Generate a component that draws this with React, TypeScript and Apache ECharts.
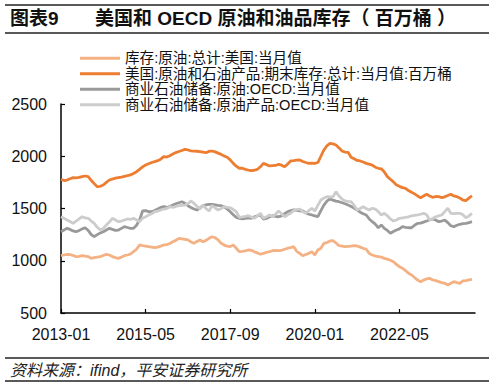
import React, { useEffect, useRef } from "react";
import * as echarts from "echarts";

const seriesNames = [
  "库存:原油:总计:美国:当月值",
  "美国:原油和石油产品:期末库存:总计:当月值:百万桶",
  "商业石油储备:原油:OECD:当月值",
  "商业石油储备:原油产品:OECD:当月值",
];

const startYear = 2013;
const monthCount = 138; // 2013-01 .. 2024-06
const categories: string[] = [];
for (let i = 0; i < monthCount; i++) {
  const y = startYear + Math.floor(i / 12);
  const m = (i % 12) + 1;
  categories.push(`${y}-${m < 10 ? "0" + m : m}`);
}

const usCrude = [
  1048, 1055, 1062, 1058, 1050, 1039, 1042, 1048, 1045, 1040, 1023, 1030,
  1035, 1039, 1050, 1062, 1055, 1040, 1030, 1023, 1035, 1048, 1055, 1065,
  1087, 1110, 1151, 1145, 1140, 1135, 1130, 1125, 1130, 1140, 1151, 1155,
  1165, 1182, 1195, 1215, 1210, 1205, 1199, 1180, 1167, 1185, 1199, 1182,
  1195, 1215, 1230, 1220, 1200, 1167, 1150, 1140, 1135, 1151, 1120, 1087,
  1090, 1095, 1103, 1100, 1085, 1075, 1062, 1071, 1080, 1087, 1096, 1100,
  1096, 1100, 1110, 1120, 1125, 1135, 1090, 1071, 1048, 1060, 1071, 1087,
  1055, 1103, 1119, 1167, 1174, 1189, 1193, 1170, 1144, 1140, 1135, 1138,
  1140, 1144, 1141, 1130, 1119, 1110, 1070, 1055, 1045, 1040, 1035, 1023,
  1015, 1005, 991, 965, 943, 928, 905, 880, 864, 840, 815, 800,
  815, 826, 832, 816, 810, 800, 790, 784, 768, 785, 800, 790,
  784, 807, 810, 816, 822,
];

const usTotal = [
  1779, 1768, 1772, 1785, 1795, 1793, 1797, 1805, 1811, 1805, 1770, 1738,
  1709, 1712, 1725, 1750, 1773, 1782, 1790, 1795, 1800, 1808, 1814, 1822,
  1835, 1852, 1875, 1898, 1916, 1928, 1940, 1948, 1958, 1972, 1996, 1992,
  2005, 2022, 2035, 2045, 2055, 2066, 2060, 2052, 2050, 2048, 2045, 2040,
  2034, 2048, 2050, 2042, 2030, 2018, 2002, 1990, 1965, 1932, 1905, 1885,
  1885, 1875, 1868, 1862, 1866, 1875, 1900, 1932, 1920, 1907, 1910, 1912,
  1923, 1915, 1900, 1925, 1955, 1958, 1962, 1964, 1950, 1940, 1932, 1935,
  1932, 1940, 2000, 2060, 2100, 2124, 2118, 2108, 2080, 2050, 2040, 2038,
  1990, 1975, 1960, 1955, 1945, 1932, 1925, 1915, 1895, 1885, 1880, 1850,
  1805, 1780, 1755, 1725, 1712, 1700, 1693, 1672, 1655, 1640, 1620, 1603,
  1620, 1636, 1620, 1607, 1615, 1613, 1605, 1612, 1625, 1636, 1620, 1613,
  1600, 1581, 1575, 1600, 1622,
];

const oecdCrude = [
  1278, 1295, 1310, 1300, 1285, 1278, 1290, 1305, 1316, 1290, 1250, 1230,
  1250, 1265, 1278, 1295, 1310, 1300, 1290, 1294, 1310, 1326, 1318, 1310,
  1310, 1340, 1390, 1476, 1480, 1470, 1469, 1480, 1495, 1510, 1517, 1510,
  1520, 1533, 1545, 1555, 1565, 1550, 1527, 1510, 1495, 1486, 1505, 1527,
  1535, 1540, 1540, 1535, 1530, 1527, 1515, 1495, 1469, 1440, 1415, 1406,
  1400, 1406, 1410, 1406, 1420, 1430, 1438, 1397, 1405, 1420, 1431, 1425,
  1421, 1430, 1450, 1469, 1480, 1486, 1482, 1478, 1476, 1460, 1445, 1438,
  1430, 1421, 1480, 1533, 1570, 1591, 1580, 1570, 1565, 1555, 1545, 1533,
  1520, 1505, 1486, 1465, 1450, 1438, 1400, 1374, 1350, 1316, 1342, 1310,
  1290, 1263, 1280, 1294, 1305, 1326, 1320, 1316, 1316, 1340, 1358, 1360,
  1370, 1380, 1390, 1400, 1390, 1374, 1380, 1390, 1365, 1335, 1326, 1340,
  1349, 1355, 1358, 1365, 1374,
];

const oecdProducts = [
  1421, 1406, 1390, 1375, 1358, 1380, 1400, 1421, 1410, 1406, 1380, 1358,
  1320, 1294, 1310, 1342, 1370, 1406, 1390, 1374, 1380, 1390, 1400, 1395,
  1406, 1390, 1374, 1406, 1420, 1438, 1450, 1469, 1475, 1486, 1495, 1500,
  1517, 1510, 1520, 1527, 1530, 1533, 1545, 1572, 1550, 1520, 1495, 1533,
  1500, 1476, 1527, 1505, 1486, 1500, 1517, 1510, 1508, 1490, 1469, 1416,
  1420, 1425, 1431, 1418, 1406, 1430, 1454, 1406, 1420, 1438, 1421, 1445,
  1476, 1450, 1421, 1440, 1454, 1480, 1490, 1495, 1470, 1454, 1480, 1502,
  1476, 1530, 1581, 1600, 1613, 1610, 1613, 1661, 1620, 1590, 1572, 1568,
  1565, 1530, 1486, 1500, 1517, 1500, 1486, 1502, 1495, 1470, 1438, 1454,
  1430, 1400, 1380, 1390, 1406, 1410, 1415, 1421, 1430, 1435, 1438, 1445,
  1454, 1440, 1390, 1405, 1421, 1430, 1438, 1470, 1502, 1454, 1450, 1454,
  1454, 1440, 1412, 1430, 1454,
];

const yMin = 500;
const yMax = 2500;
const yInterval = 500;

const colors = ["#F4B183", "#ED7D31", "#999999", "#CCCCCC"];
const FONT = "'Liberation Sans', 'Noto Sans CJK SC', sans-serif";

export default function App() {
  const ref = useRef<HTMLDivElement>(null);
  useEffect(() => {
    if (!ref.current) return;
    const chart = echarts.init(ref.current, undefined, { renderer: "svg" });
    const dataSets = [usCrude, usTotal, oecdCrude, oecdProducts];
    chart.setOption({
      animation: false,
      backgroundColor: "#ffffff",
      textStyle: { fontFamily: FONT },
      grid: { left: 61, right: 20, top: 104, bottom: 74, containLabel: false },
      legend: {
        orient: "vertical",
        left: 80,
        top: 50.5,
        padding: 0,
        icon: "rect",
        itemWidth: 40,
        itemHeight: 3,
        itemGap: 0,
        data: seriesNames,
        textStyle: { fontSize: 14.6, color: "#111", fontFamily: FONT, lineHeight: 15.5 },
      },
      xAxis: {
        type: "category",
        data: categories,
        boundaryGap: false,
        axisLine: { lineStyle: { color: "#000", width: 1.5 } },
        axisTick: { show: true, inside: true, length: 4, interval: 27, lineStyle: { color: "#000", width: 1.2 } },
        axisLabel: { interval: 27, fontSize: 16, color: "#111", margin: 13, fontFamily: FONT },
        splitLine: { show: false },
      },
      yAxis: {
        type: "value",
        min: yMin,
        max: yMax,
        interval: yInterval,
        axisLine: { show: true, lineStyle: { color: "#000", width: 1.5 } },
        axisTick: { show: true, inside: true, length: 4, lineStyle: { color: "#000", width: 1.2 } },
        axisLabel: {
          fontSize: 16,
          color: "#111",
          margin: 14,
          fontFamily: FONT,
          formatter: (v: number) => String(v),
        },
        splitLine: { show: false },
      },
      series: seriesNames.map((name, k) => ({
        name,
        type: "line",
        data: dataSets[k],
        symbol: "none",
        showSymbol: false,
        lineStyle: { color: colors[k], width: 2.8 },
        itemStyle: { color: colors[k] },
      })),
      graphic: [
        { type: "line", shape: { x1: 5, y1: 5, x2: 489, y2: 5 }, style: { stroke: "#222", lineWidth: 1.5 } },
        { type: "line", shape: { x1: 5, y1: 33, x2: 489, y2: 33 }, style: { stroke: "#222", lineWidth: 1.5 } },
        {
          type: "text",
          left: 10,
          top: 9,
          style: { text: "图表9", font: `bold 19px ${FONT}`, fill: "#111" },
        },
        {
          type: "text",
          left: 95,
          top: 9,
          style: { text: "美国和 OECD 原油和油品库存（ 百万桶 ）", font: `bold 19px ${FONT}`, fill: "#111" },
        },
        { type: "line", shape: { x1: 5, y1: 358, x2: 489, y2: 358 }, style: { stroke: "#222", lineWidth: 1.5 } },
        {
          type: "text",
          left: 10,
          top: 362,
          style: { text: "资料来源：ifind，平安证券研究所", font: `italic 16px ${FONT}`, fill: "#222" },
        },
        { type: "line", shape: { x1: 5, y1: 381, x2: 489, y2: 381 }, style: { stroke: "#222", lineWidth: 1.5 } },
      ],
    });
    return () => chart.dispose();
  }, []);
  return (
    <div
      ref={ref}
      style={{ position: "fixed", left: 0, top: 0, width: 495, height: 387, background: "#fff" }}
    />
  );
}
